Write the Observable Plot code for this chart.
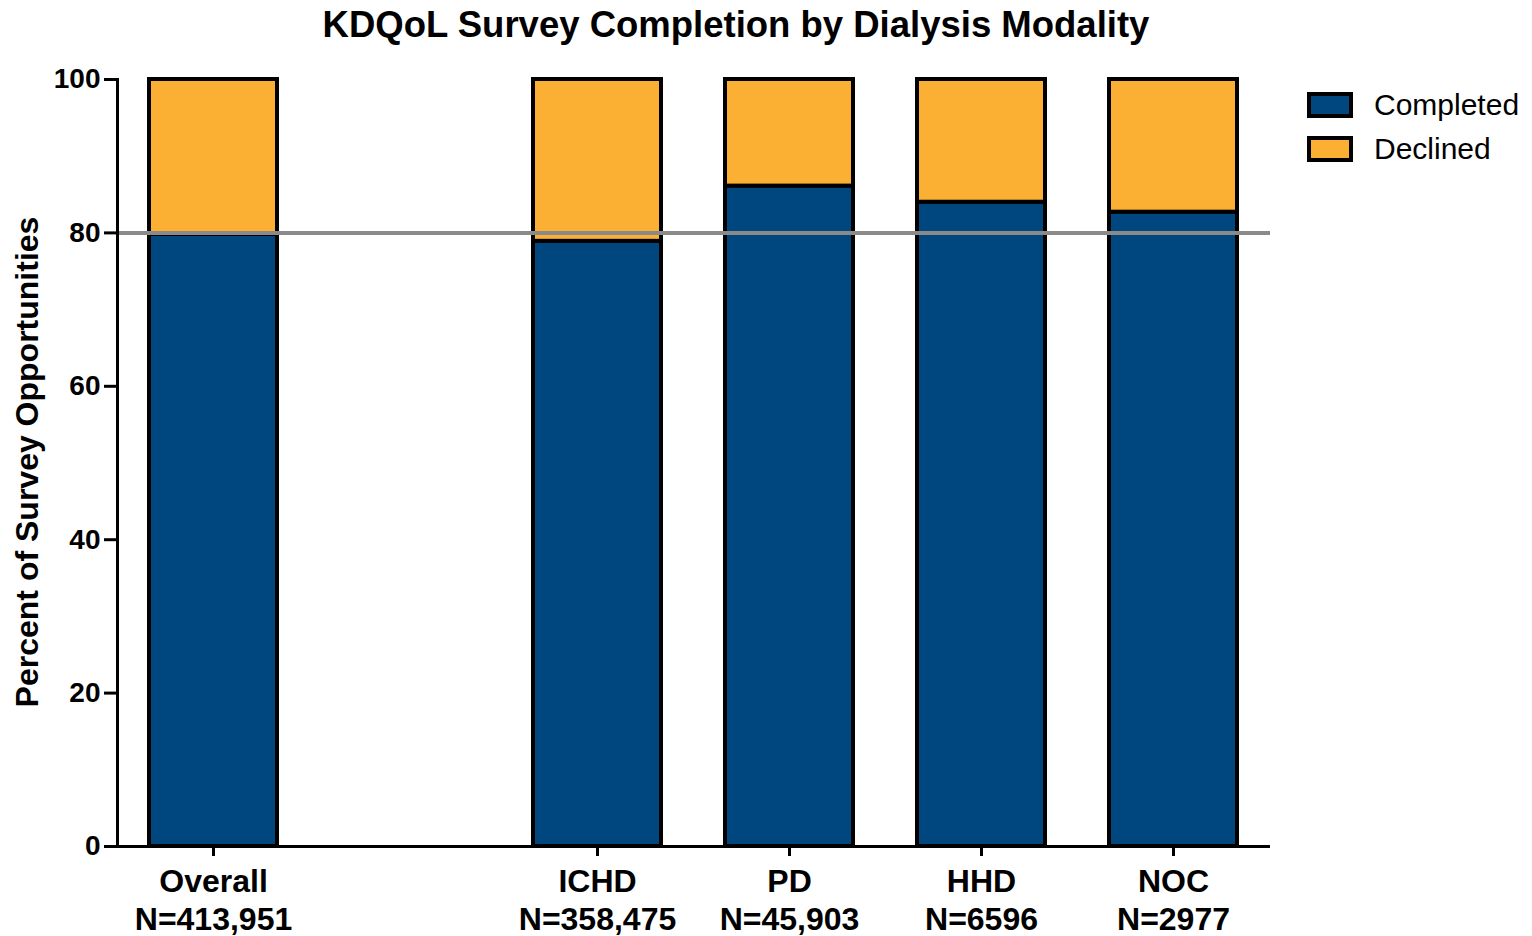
<!DOCTYPE html>
<html><head><meta charset="utf-8">
<script src="https://cdn.jsdelivr.net/npm/d3@7"></script>
<script src="https://cdn.jsdelivr.net/npm/@observablehq/plot@0.6"></script>
<style>
body{margin:0;background:#fff;font-family:"Liberation Sans",Arial,sans-serif;color:#000;}
#wrap{position:relative;width:1532px;height:936px;overflow:hidden;}
#title{position:absolute;left:0;width:1472px;top:5px;line-height:40px;text-align:center;font-weight:bold;font-size:36.5px;}
#ylab{position:absolute;left:27px;top:462px;transform:translate(-50%,-50%) rotate(-90deg);white-space:nowrap;font-weight:bold;font-size:32px;}
.leg{position:absolute;left:1307px;height:26px;display:flex;align-items:center;font-size:30px;}
.sw{width:46px;height:26px;box-sizing:border-box;border:4px solid #000;margin-right:21px;}
#chart{position:absolute;left:0;top:0;}
</style>
</head><body>
<div id="wrap">
<div id="chart"></div>
<div id="title"></div>
<div id="ylab"></div>
<div id="legend"></div>
</div>
<script>
const title = "KDQoL Survey Completion by Dialysis Modality";
const yLabel = "Percent of Survey Opportunities";
const categories = ["Overall", "ICHD", "PD", "HHD", "NOC"];
const nLabels = ["N=413,951", "N=358,475", "N=45,903", "N=6596", "N=2977"];
const completed = [79.8, 78.9, 86.1, 84.0, 82.7];
const declined = [20.2, 21.1, 13.9, 16.0, 17.3];
const statuses = ["Completed", "Declined"];
const colors = ["#00467F", "#FBB034"];
const yTicks = [0, 20, 40, 60, 80, 100];
const reference = [80];

const data = [];
categories.forEach((c, i) => {
  data.push({category: c, status: "Completed", value: completed[i]});
  data.push({category: c, status: "Declined", value: declined[i]});
});
const domainX = [categories[0], " ", ...categories.slice(1)];
const labelOf = new Map(categories.map((c, i) => [c, c + "\n" + nLabels[i]]));

document.getElementById("title").textContent = title;
document.getElementById("ylab").textContent = yLabel;
const leg = document.getElementById("legend");
statuses.forEach((s, i) => {
  const d = document.createElement("div");
  d.className = "leg";
  d.style.top = (92 + i * 44) + "px";
  d.innerHTML = `<div class="sw" style="background:${colors[i]}"></div><span>${s}</span>`;
  leg.appendChild(d);
});

const chart = Plot.plot({
  width: 1532,
  height: 936,
  marginLeft: 117,
  marginRight: 262,
  marginTop: 79,
  marginBottom: 90,
  style: {fontFamily: "'Liberation Sans', Arial, sans-serif", color: "#000", background: "#fff"},
  x: {type: "band", domain: domainX, paddingInner: 0.333, paddingOuter: 0.1665, label: null},
  y: {domain: [0, 100], label: null},
  color: {domain: statuses, range: colors},
  marks: [
    Plot.barY(data, Plot.stackY({x: "category", y: "value", fill: "status", order: statuses, stroke: "#000", strokeWidth: 4})),
    Plot.ruleY(reference, {stroke: "#8a8a8a", strokeWidth: 4}),
    Plot.ruleY([0], {stroke: "#000", strokeWidth: 3}),
    Plot.frame({anchor: "left", stroke: "#000", strokeWidth: 3}),
    Plot.axisY({ticks: yTicks, tickSize: 13, strokeWidth: 3, tickPadding: 4, fontSize: 28, fontWeight: "bold", label: null}),
    Plot.axisX({ticks: categories, tickSize: 10, strokeWidth: 3, tickPadding: 9, fontSize: 32, fontWeight: "bold", lineHeight: 1.18, tickFormat: d => labelOf.get(d), label: null})
  ]
});
document.getElementById("chart").appendChild(chart);
</script>
</body></html>
